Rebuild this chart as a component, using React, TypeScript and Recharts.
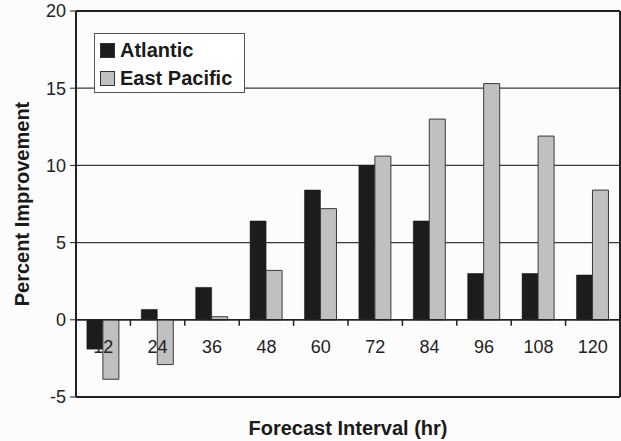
import React from 'react';
import { BarChart, Bar, XAxis, YAxis, CartesianGrid, Legend, ReferenceLine } from 'recharts';

const intervals = ['12', '24', '36', '48', '60', '72', '84', '96', '108', '120'];
const atlantic = [-1.9, 0.67, 2.1, 6.4, 8.4, 10.0, 6.4, 3.0, 3.0, 2.9];
const eastPacific = [-3.85, -2.9, 0.2, 3.2, 7.2, 10.6, 13.0, 15.3, 11.9, 8.4];
const yTicks = [-5, 0, 5, 10, 15, 20];

const data = intervals.map((hr, i) => ({ hr, atlantic: atlantic[i], eastPacific: eastPacific[i] }));

const W = 621;
const H = 441;
const MARGIN = { top: 11, right: 0, bottom: 0, left: 0 };
const X_AXIS_H = 44;
const Y_AXIS_W = 76;
const Y_MIN = -5;
const Y_MAX = 20;
const FONT = '"Liberation Sans", Arial, sans-serif';

const plotH = H - MARGIN.top - X_AXIS_H;
const zeroY = MARGIN.top + (plotH * Y_MAX) / (Y_MAX - Y_MIN);
const band = (W - Y_AXIS_W - 1) / intervals.length;

// x tick labels sit under the zero line, tick marks between categories
const XTick = ({ x, payload, index }: any) => (
  <g>
    {index < intervals.length - 1 && (
      <line x1={x + band / 2} x2={x + band / 2} y1={zeroY} y2={zeroY + 6} stroke="#222" strokeWidth={1.5} />
    )}
    <text x={x} y={zeroY + 27} textAnchor="middle" dominantBaseline="central" fontSize={18} fontFamily={FONT} fill="#222">
      {payload.value}
    </text>
  </g>
);

const LegendBox = () => (
  <div
    style={{
      border: '1px solid #555',
      background: '#fff',
      padding: '2px 6px 0 5px',
      fontFamily: FONT,
      fontWeight: 'bold',
      fontSize: 20,
      lineHeight: '28px',
      color: '#1a1a1a',
      width: 138,
    }}
  >
    {[
      { name: 'Atlantic', fill: '#1c1c1c' },
      { name: 'East Pacific', fill: '#c0c0c0' },
    ].map((item) => (
      <div key={item.name} style={{ display: 'flex', alignItems: 'center', whiteSpace: 'nowrap' }}>
        <span
          style={{
            display: 'inline-block',
            width: 13,
            height: 13,
            background: item.fill,
            border: '1px solid #333',
            marginRight: 5,
          }}
        />
        {item.name}
      </div>
    ))}
  </div>
);

export default function App() {
  return (
    <div style={{ position: 'absolute', left: 0, top: 0, width: W, height: H, background: '#fcfcfc' }}>
      <BarChart width={W} height={H} data={data} margin={MARGIN} barGap={0} barCategoryGap="20%">
        <CartesianGrid vertical={false} stroke="#3a3a3a" strokeWidth={1.2} />
        <XAxis
          dataKey="hr"
          height={X_AXIS_H}
          axisLine={false}
          tickLine={false}
          interval={0}
          tick={<XTick />}
          label={{
            value: 'Forecast Interval (hr)',
            position: 'insideBottom',
            offset: 6,
            style: { fontFamily: FONT, fontWeight: 'bold', fontSize: 20, fill: '#1a1a1a' },
          }}
        />
        <YAxis
          width={Y_AXIS_W}
          domain={[Y_MIN, Y_MAX]}
          ticks={yTicks}
          interval={0}
          axisLine={{ stroke: '#222', strokeWidth: 2 }}
          tickLine={{ stroke: '#222' }}
          tickSize={6}
          tickMargin={4}
          tick={{ fontSize: 18, fontFamily: FONT, fill: '#222' }}
          label={{
            value: 'Percent Improvement',
            angle: -90,
            position: 'insideLeft',
            offset: 22,
            style: { textAnchor: 'middle', fontFamily: FONT, fontWeight: 'bold', fontSize: 20, fill: '#1a1a1a' },
          }}
        />
        <YAxis
          yAxisId="r"
          orientation="right"
          width={1}
          domain={[Y_MIN, Y_MAX]}
          tick={false}
          tickLine={false}
          axisLine={{ stroke: '#222', strokeWidth: 2 }}
        />
        <ReferenceLine y={Y_MAX} stroke="#222" strokeWidth={2} />
        <ReferenceLine y={Y_MIN} stroke="#222" strokeWidth={2} />
        <ReferenceLine y={0} stroke="#222" strokeWidth={1.5} />
        <Legend
          layout="horizontal"
          verticalAlign="middle"
          align="center"
          wrapperStyle={{ left: 94, top: 33, width: 'auto' }}
          content={<LegendBox />}
        />
        <Bar dataKey="atlantic" name="Atlantic" fill="#1c1c1c" stroke="#111" strokeWidth={0.5} isAnimationActive={false} />
        <Bar dataKey="eastPacific" name="East Pacific" fill="#c0c0c0" stroke="#3a3a3a" strokeWidth={1} isAnimationActive={false} />
      </BarChart>
    </div>
  );
}
